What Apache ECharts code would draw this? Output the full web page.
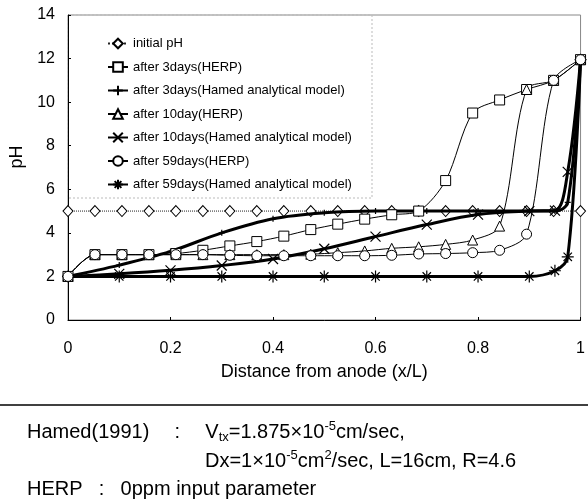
<!DOCTYPE html>
<html>
<head>
<meta charset="utf-8">
<script src="https://cdn.jsdelivr.net/npm/echarts@6/dist/echarts.min.js"></script>
<style>
  html, body { margin: 0; padding: 0; background: #fff; }
  #chart { width: 588px; height: 503px; }
</style>
</head>
<body>
<div id="chart"></div>
<script>
// HERP grid nodes (x/L), 20 nodes
const nodeX = [0, 0.0526, 0.1053, 0.1579, 0.2105, 0.2632, 0.3158, 0.3684, 0.4211, 0.4737,
  0.5263, 0.5789, 0.6316, 0.6842, 0.7368, 0.7895, 0.8421, 0.8947, 0.9474, 1];
const initialPH = [5, 5, 5, 5, 5, 5, 5, 5, 5, 5, 5, 5, 5, 5, 5, 5, 5, 5, 5, 5];
const herp3 = [2, 3, 3, 3, 3.05, 3.2, 3.4, 3.6, 3.85, 4.15, 4.4, 4.63, 4.83, 5.0, 6.4, 9.5, 10.1, 10.58, 11.0, 11.95];
const herp10 = [2, 3, 3, 3, 3, 3, 3, 3, 3, 3.02, 3.09, 3.17, 3.29, 3.36, 3.47, 3.67, 4.31, 10.58, 11.0, 11.95];
const herp59 = [2, 3, 3, 3, 3, 3, 2.97, 2.95, 2.95, 2.95, 2.95, 2.95, 2.97, 3.03, 3.05, 3.09, 3.2, 3.94, 11.0, 11.95];

// analytical model (Hamed) points
const modelX = [0, 0.1, 0.2, 0.3, 0.4, 0.5, 0.6, 0.7, 0.8, 0.9, 0.95, 0.975, 1];
const hamed3 = [2, 2.52, 3.15, 4.0, 4.65, 4.92, 5.0, 5.0, 5.0, 5.0, 5.0, 5.4, 11.95];
const hamed10 = [2, 2.12, 2.28, 2.5, 2.8, 3.27, 3.83, 4.38, 4.84, 5.0, 5.02, 6.8, 11.95];
const hamed59 = [2, 2, 2, 2, 2, 2, 2, 2, 2, 2, 2.26, 2.9, 11.95];

const xTicks = [0, 0.2, 0.4, 0.6, 0.8, 1];
const seriesNames = [
  'initial pH',
  'after 3days(HERP)',
  'after 3days(Hamed analytical model)',
  'after 10day(HERP)',
  'after 10days(Hamed analytical model)',
  'after 59days(HERP)',
  'after 59days(Hamed analytical model)'
];

const FONT = '"Liberation Sans", Arial, sans-serif';
const PLUS = 'path://M5,0L5,10M0,5L10,5';
const CROSS = 'path://M0,0L10,10M10,0L0,10';
const STAR = 'path://M5,0L5,10M0,5L10,5M1.5,1.5L8.5,8.5M8.5,1.5L1.5,8.5';

function zip(xs, ys) {
  return xs.map((x, i) => [x, ys[i]]);
}

// open (white filled) markers on a thin line
function herpSeries(name, ys, symbol, size) {
  return {
    name: name,
    type: 'line',
    data: zip(nodeX, ys),
    smooth: 0.3,
    symbol: symbol,
    symbolSize: size,
    z: 4,
    lineStyle: { color: '#000', width: 1 },
    itemStyle: { color: '#fff', borderColor: '#000', borderWidth: 1 }
  };
}

function hamedSeries(name, ys, symbol, size) {
  return {
    name: name,
    type: 'line',
    data: zip(modelX, ys),
    smooth: 0.35,
    symbol: symbol,
    symbolSize: size,
    z: 3,
    lineStyle: { color: '#000', width: 3 },
    itemStyle: { color: '#000', borderColor: '#000', borderWidth: 1.2 }
  };
}

const richText = {
  n: { fontFamily: FONT, fontSize: 20, lineHeight: 24, fill: '#000' },
  c: { fontFamily: FONT, fontSize: 20, lineHeight: 24, fill: '#000', width: 56, align: 'center' },
  c2: { fontFamily: FONT, fontSize: 20, lineHeight: 24, fill: '#000', width: 38, align: 'center' },
  sub: { fontFamily: FONT, fontSize: 13, lineHeight: 13, fill: '#000', verticalAlign: 'bottom' },
  sup: { fontFamily: FONT, fontSize: 13, lineHeight: 13, fill: '#000', verticalAlign: 'top' }
};

const chart = echarts.init(document.getElementById('chart'));

chart.setOption({
  animation: false,
  backgroundColor: '#fff',
  grid: {
    left: 68, right: 4, top: 15, bottom: 183,
    show: true, borderColor: '#888', borderWidth: 1
  },
  legend: {
    data: seriesNames,
    orient: 'vertical',
    left: 107,
    top: 37,
    padding: 0,
    itemWidth: 20,
    itemHeight: 12,
    itemGap: 10.5,
    textStyle: { fontFamily: FONT, fontSize: 13, color: '#000' }
  },
  xAxis: {
    type: 'value',
    min: 0, max: 1, interval: 0.2,
    name: 'Distance from anode (x/L)',
    nameLocation: 'middle',
    nameGap: 43,
    nameTextStyle: { fontFamily: FONT, fontSize: 18, color: '#000' },
    axisLine: { lineStyle: { color: '#000', width: 1 } },
    axisTick: { inside: true, length: 3, lineStyle: { color: '#000' } },
    axisLabel: {
      fontFamily: FONT, fontSize: 16, color: '#000', margin: 21,
      formatter: v => String(xTicks.find(t => Math.abs(t - v) < 1e-6) ?? v)
    },
    splitLine: { show: false }
  },
  yAxis: {
    type: 'value',
    min: 0, max: 14, interval: 2,
    axisLine: { show: true, lineStyle: { color: '#000', width: 1 } },
    axisTick: { show: true, inside: true, length: 3, lineStyle: { color: '#000' } },
    axisLabel: { fontFamily: FONT, fontSize: 16, color: '#000', margin: 13 },
    splitLine: { show: false }
  },
  graphic: [
    {
      type: 'rect',
      shape: { x: 68, y: 15, width: 304, height: 183 },
      style: { fill: 'none', stroke: '#bbb', lineWidth: 1, lineDash: [2, 2] },
      silent: true
    },
    {
      type: 'text',
      x: 17, y: 157,
      rotation: Math.PI / 2,
      style: {
        text: 'pH', fontFamily: FONT, fontSize: 18, fill: '#000',
        align: 'center', verticalAlign: 'middle'
      }
    },
    {
      type: 'line',
      shape: { x1: 0, y1: 405, x2: 588, y2: 405 },
      style: { stroke: '#000', lineWidth: 1.3 }
    },
    {
      type: 'text',
      x: 27, y: 432,
      style: {
        text: '{n|Hamed(1991)}{c|:}{n|V}{sub|tx}{n|=1.875×10}{sup|-5}{n|cm/sec,}',
        verticalAlign: 'middle',
        rich: richText
      }
    },
    {
      type: 'text',
      x: 205, y: 461,
      style: {
        text: '{n|Dx=1×10}{sup|-5}{n|cm}{sup|2}{n|/sec, L=16cm, R=4.6}',
        verticalAlign: 'middle',
        rich: richText
      }
    },
    {
      type: 'text',
      x: 27, y: 489,
      style: {
        text: '{n|HERP}{c2|:}{n|0ppm input parameter}',
        verticalAlign: 'middle',
        rich: richText
      }
    }
  ],
  series: [
    {
      name: seriesNames[0],
      type: 'line',
      data: zip(nodeX, initialPH),
      symbol: 'diamond',
      symbolSize: [10, 11],
      z: 2,
      lineStyle: { color: '#222', width: 1, type: 'dotted' },
      itemStyle: { color: '#fff', borderColor: '#000', borderWidth: 1 }
    },
    herpSeries(seriesNames[1], herp3, 'rect', 10),
    hamedSeries(seriesNames[2], hamed3, PLUS, 6),
    herpSeries(seriesNames[3], herp10, 'triangle', 10),
    hamedSeries(seriesNames[4], hamed10, CROSS, 10),
    herpSeries(seriesNames[5], herp59, 'circle', 10),
    hamedSeries(seriesNames[6], hamed59, STAR, 12)
  ]
});
</script>
</body>
</html>
